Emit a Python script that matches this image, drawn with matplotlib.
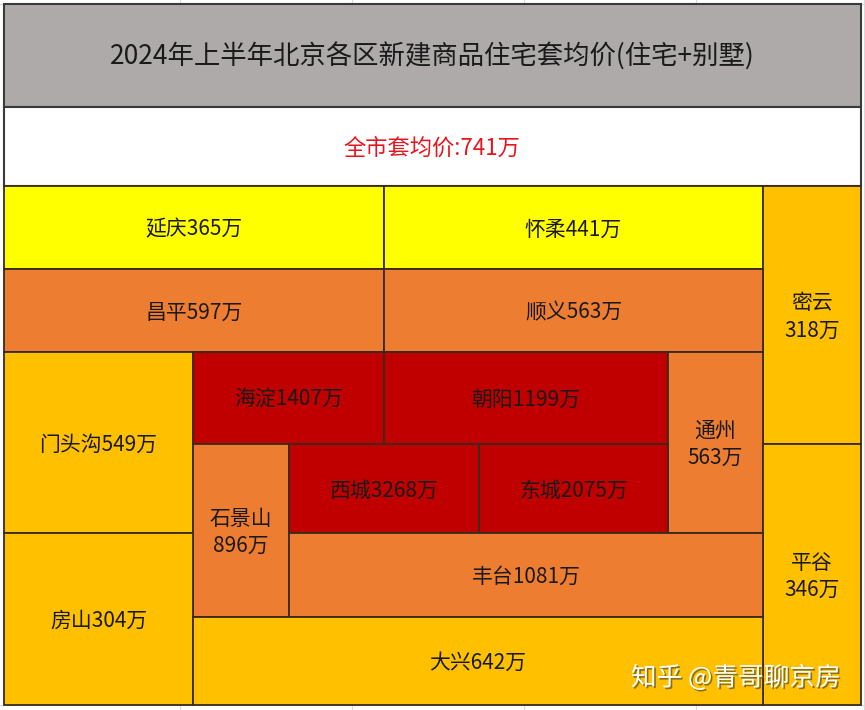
import matplotlib.pyplot as plt
import matplotlib.patheffects as pe
from matplotlib.patches import Rectangle

plt.rcParams['font.family'] = ['Noto Sans CJK SC', 'DejaVu Sans']

title = "2024年上半年北京各区新建商品住宅套均价(住宅+别墅)"
city_label = "全市套均价"
city_avg = 741

# districts and average price per unit (万元)
districts = ["延庆", "怀柔", "密云", "昌平", "顺义", "门头沟", "海淀", "朝阳", "通州",
             "平谷", "石景山", "西城", "东城", "房山", "丰台", "大兴"]
prices = [365, 441, 318, 597, 563, 549, 1407, 1199, 563,
          346, 896, 3268, 2075, 304, 1081, 642]
colors = ["#FFFF00", "#FFFF00", "#FFC000", "#ED7D31", "#ED7D31", "#FFC000",
          "#C00000", "#C00000", "#ED7D31", "#FFC000", "#ED7D31", "#C00000",
          "#C00000", "#FFC000", "#ED7D31", "#FFC000"]
two_lines = ["密云", "通州", "平谷", "石景山"]

# grid layout: cell spans (col0, col1, row0, row1) and the edges in pixels
spans = [(0, 3, 0, 1), (3, 6, 0, 1), (6, 7, 0, 3), (0, 3, 1, 2), (3, 6, 1, 2),
         (0, 1, 2, 4), (1, 3, 2, 3), (3, 5, 2, 3), (5, 6, 2, 4), (6, 7, 3, 6),
         (1, 2, 3, 5), (2, 4, 3, 4), (4, 5, 3, 4), (0, 1, 4, 6), (2, 6, 4, 5),
         (1, 6, 5, 6)]
col_x = [4, 193, 289, 384, 479, 668, 763, 861]
row_y = [186, 269, 352, 444, 533, 617, 705]

fig = plt.figure(figsize=(8.65, 7.10), dpi=100)
ax = fig.add_axes([0, 0, 1, 1])
ax.set_xlim(0, 865)
ax.set_ylim(710, 0)
ax.axis("off")

# faint spreadsheet grid behind
for x in [180, 352, 524, 696, 864]:
    ax.plot([x, x], [0, 710], color="#d9d9d9", lw=0.8, zorder=0)
for y in [4, 705]:
    ax.plot([0, 865], [y, y], color="#d9d9d9", lw=0.8, zorder=0)

# title row
ax.add_patch(Rectangle((4, 4), 857, 103, facecolor="#AEAAAA", edgecolor="#3a3a3a", lw=1.5, zorder=2))
ax.text(432, 57, title, ha="center", va="center", fontsize=19, color="#1a1a1a", zorder=5)

# city average row
ax.add_patch(Rectangle((4, 107), 857, 79, facecolor="white", edgecolor="#3a3a3a", lw=1.5, zorder=2))
ax.text(432, 148, f"{city_label}:{city_avg}万", ha="center", va="center",
        fontsize=16, color="#E8141B", zorder=5)

for name, p, c, (c0, c1, r0, r1) in zip(districts, prices, colors, spans):
    x0, x1 = col_x[c0], col_x[c1]
    y0, y1 = row_y[r0], row_y[r1]
    ax.add_patch(Rectangle((x0, y0), x1 - x0, y1 - y0, facecolor=c,
                           edgecolor="#3a2a1a", lw=1.3, zorder=3))
    sep = "\n" if name in two_lines else ""
    ax.text((x0 + x1) / 2, (y0 + y1) / 2 + 2, f"{name}{sep}{p}万", ha="center", va="center",
            fontsize=15, color="#1a1a1a", linespacing=1.3, zorder=5)

ax.text(736, 678, "知乎 @青哥聊京房", ha="center", va="center", fontsize=18.5,
        color="white", zorder=6,
        path_effects=[pe.withSimplePatchShadow(offset=(1.2, -1.2), shadow_rgbFace="#6b5a20", alpha=0.8)])

fig.savefig("out.png", dpi=100)
